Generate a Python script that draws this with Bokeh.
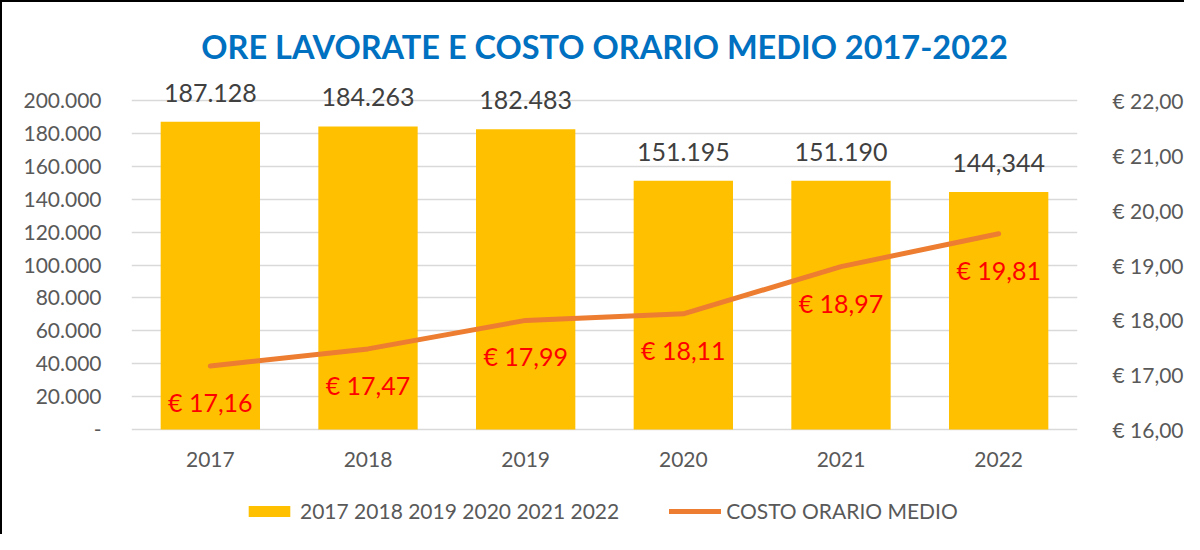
from bokeh.plotting import figure
from bokeh.models import (Range1d, LinearAxis, FixedTicker, ColumnDataSource, Legend,
                          LegendItem, FactorRange)
from bokeh.embed import file_html
from bokeh.resources import INLINE

# ---- data ----
years = ["2017", "2018", "2019", "2020", "2021", "2022"]
ore = [187128, 184263, 182483, 151195, 151190, 144344]
ore_labels = ["187.128", "184.263", "182.483", "151.195", "151.190", "144,344"]
costo = [17.16, 17.47, 17.99, 18.11, 18.97, 19.57]
costo_labels = ["€ 17,16", "€ 17,47", "€ 17,99", "€ 18,11", "€ 18,97", "€ 19,81"]
left_ticks = [0, 20000, 40000, 60000, 80000, 100000, 120000, 140000, 160000, 180000, 200000]
left_tick_labels = ["-", "20.000", "40.000", "60.000", "80.000", "100.000", "120.000",
                    "140.000", "160.000", "180.000", "200.000"]
right_ticks = [16, 17, 18, 19, 20, 21, 22]
right_tick_labels = ["€ 16,00", "€ 17,00", "€ 18,00", "€ 19,00", "€ 20,00", "€ 21,00", "€ 22,00"]
title_text = "ORE LAVORATE E COSTO ORARIO MEDIO 2017-2022"
bar_legend = "2017 2018 2019 2020 2021 2022"
line_legend = "COSTO ORARIO MEDIO"

FONT = "Lato"
GRAY = "#595959"

# frame geometry (px): the 0..200.000 band is 329 px; 357 px above zero,
# 95 px below zero (room for category labels and legend)
PX = 329
above, below = 357, 95
left_min, left_max = -200000 * below / PX, 200000 * above / PX
right_min, right_max = 16 - 6 * below / PX, 16 + 6 * above / PX
cat_label_y = -200000 * 30 / PX

src = ColumnDataSource(dict(years=years, ore=ore, ore_labels=ore_labels,
                            costo=costo, costo_labels=costo_labels,
                            lab_y=[cat_label_y] * len(years)))

p = figure(x_range=FactorRange(*years, range_padding=0),
           y_range=Range1d(left_min, left_max),
           width=1184, height=534, output_backend="svg", toolbar_location=None,
           min_border_left=129, min_border_right=103, min_border_top=70,
           min_border_bottom=12, title=title_text)
p.extra_y_ranges = {"right": Range1d(right_min, right_max)}
p.outline_line_color = None
p.background_fill_color = "white"
p.border_fill_color = "white"
p.styles = {"border-top": "2px solid #000", "border-left": "2px solid #000"}

p.title.align = "center"
p.title.text_font = FONT
p.title.text_font_size = "32.5px"
p.title.text_font_style = "bold"
p.title.text_color = "#0070C0"
p.title.standoff = 13

# grid
p.xgrid.grid_line_color = None
p.ygrid.ticker = FixedTicker(ticks=left_ticks)
p.ygrid.grid_line_color = "#D9D9D9"
p.ygrid.grid_line_width = 1.5

# left axis
la = p.yaxis[0]
la.ticker = FixedTicker(ticks=left_ticks)
la.major_label_overrides = {t: s for t, s in zip(left_ticks, left_tick_labels)}
la.axis_line_color = None
la.major_tick_line_color = None
la.minor_tick_line_color = None
la.major_label_standoff = 24
la.major_label_text_font = FONT
la.major_label_text_font_size = "21px"
la.major_label_text_color = GRAY

# right axis
ra = LinearAxis(y_range_name="right", ticker=FixedTicker(ticks=right_ticks))
ra.major_label_overrides = {t: s for t, s in zip(right_ticks, right_tick_labels)}
ra.axis_line_color = None
ra.major_tick_line_color = None
ra.minor_tick_line_color = None
ra.major_label_standoff = 29
ra.major_label_text_font = FONT
ra.major_label_text_font_size = "21px"
ra.major_label_text_color = GRAY
p.add_layout(ra, "right")

# x axis: category labels drawn just under the zero line
p.xaxis.visible = False
p.text(x="years", y="lab_y", text="years", source=src, text_align="center",
       text_baseline="middle", text_font_size="21px", text_color=GRAY,
       text_font={"value": FONT})

# bars
bars = p.vbar(x="years", top="ore", width=0.63, source=src,
              fill_color="#FFC000", line_color=None)
p.text(x="years", y="ore", text="ore_labels", source=src, text_align="center",
       text_baseline="middle", y_offset=-29, text_font_size="25px",
       text_color="#404040", text_font={"value": FONT})

# line
ln = p.line(x="years", y="costo", source=src, y_range_name="right",
            line_color="#ED7D31", line_width=5, line_cap="round", line_join="round")
p.text(x="years", y="costo", text="costo_labels", source=src, y_range_name="right",
       text_align="center", text_baseline="middle", y_offset=36,
       text_font_size="25px", text_color="#FF0000", text_font={"value": FONT})

# legend
legend = Legend(items=[LegendItem(label=bar_legend, renderers=[bars]),
                       LegendItem(label=line_legend, renderers=[ln])],
                location=(112, 1), orientation="horizontal",
                spacing=50, glyph_width=52, glyph_height=14, label_standoff=5,
                label_text_font=FONT, label_text_font_size="21px",
                label_text_color=GRAY, border_line_color=None,
                background_fill_alpha=0, padding=0, margin=0)
p.add_layout(legend, "center")

open("out.html", "w").write(file_html(p, INLINE))
